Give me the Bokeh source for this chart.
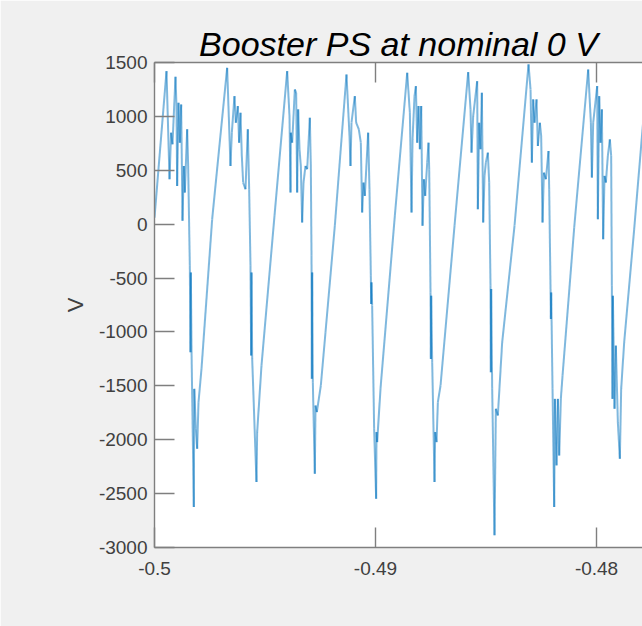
import numpy as np
from bokeh.plotting import figure
from bokeh.models import LinearAxis, FixedTicker, Range1d, Title, ColumnDataSource
from bokeh.embed import file_html
from bokeh.resources import INLINE

# ---- data (time offset in ms from t = -0.5 s, voltage in V) ----
T0 = -0.5
lead_ms = [0.000]
lead_v = [60]

c1_ms = [0.543, 0.680, 0.750, 0.814, 0.950, 0.995, 1.025, 1.086, 1.146, 1.206, 1.267, 1.327, 1.372,
         1.478, 1.523, 1.598, 1.628, 1.645, 1.674, 1.779, 1.800, 1.870, 1.930, 1.991, 2.126, 2.609]
c1_v = [1420, 417, 849, 741, 1368, 1096, 355, 1127, 756, 1111, 31, 540, 293,
        880, 540, -386, -1188, -448, -1158, -2624, -1528, -1898, -2084, -1652, -1343, 46]

c2_ms = [3.287, 3.438, 3.499, 3.619, 3.680, 3.770, 3.830, 3.891, 3.951, 4.011, 4.117, 4.222, 4.283,
         4.343, 4.373, 4.390, 4.420, 4.614, 4.645, 4.841, 5.429]
c2_v = [1451, 540, 849, 1188, 941, 1096, 756, 1034, 633, 386, 324, 880, 324,
        -386, -1219, -448, -1250, -2392, -1929, -1312, 77]

c3_ms = [6.003, 6.108, 6.154, 6.169, 6.229, 6.350, 6.410, 6.455, 6.500, 6.561, 6.621, 6.681, 6.742,
         6.832, 6.908, 7.028, 7.073, 7.104, 7.119, 7.134, 7.164, 7.254, 7.285, 7.345, 7.526, 7.737, 8.159]
c3_v = [1420, 1003, 293, 849, 756, 1250, 1219, 293, 1065, 695, 540, 15, 386,
        540, 509, 988, 540, -293, -1435, -448, -1466, -2315, -1682, -1744, -1497, -1003, -15]

c4_ms = [8.687, 8.823, 8.868, 8.913, 9.064, 9.124, 9.245, 9.335, 9.396, 9.456, 9.516, 9.667, 9.727,
         9.788, 9.803, 9.818, 9.848, 9.938, 10.029, 10.044, 10.074, 10.225, 10.874]
c4_v = [1389, 818, 540, 941, 1188, 941, 880, 756, 108, 386, 262, 849, 324,
        -478, -740, -540, -756, -1898, -2547, -1929, -2022, -1528, 77]

c5_ms = [11.434, 11.554, 11.630, 11.675, 11.765, 11.826, 11.886, 11.946, 12.007, 12.067, 12.127, 12.188,
         12.248, 12.338, 12.399, 12.429, 12.489, 12.504, 12.519, 12.565, 12.670, 12.700, 12.761, 12.821,
         12.942, 13.575]
c5_v = [1405, 1034, 108, 787, 1188, 1281, 756, 1096, 695, 1096, -15, 417,
        262, 571, 756, 509, -633, -1250, -664, -1281, -2392, -1929, -2022, -1652,
        -1497, -15]

c6_ms = [14.193, 14.299, 14.344, 14.419, 14.600, 14.630, 14.691, 14.751, 14.811, 14.872, 14.932, 14.992,
         15.083, 15.143, 15.203, 15.218, 15.233, 15.279, 15.384, 15.445, 15.535, 15.731, 16.289]
c6_v = [1411, 1065, 664, 1003, 1327, 139, 941, 695, 1219, 15, 448, 571,
        664, 386, -571, -1374, -602, -1528, -2886, -1713, -1775, -1096, -15]

c7_ms = [16.923, 17.014, 17.074, 17.135, 17.195, 17.285, 17.346, 17.436, 17.496, 17.557, 17.617, 17.708,
         17.828, 17.858, 17.919, 17.934, 17.949, 18.009, 18.085, 18.115, 18.190, 18.250, 18.311, 18.386,
         18.462, 18.990]
c7_v = [1482, 1250, 571, 1158, 941, 1158, 725, 941, 818, 15, 478, 417,
        679, 324, -602, -880, -633, -1528, -2624, -1621, -2238, -1621, -2146, -1621,
        -1405, -31]

c8_ms = [19.623, 19.744, 19.789, 19.849, 20.030, 20.060, 20.121, 20.181, 20.241, 20.301, 20.362, 20.422,
         20.512, 20.603, 20.663, 20.693, 20.723, 20.740, 20.814, 20.874, 20.965, 21.055, 21.115, 21.251,
         21.704, 22.081, 22.300]
c8_v = [1435, 941, 432, 941, 1281, 46, 1188, 756, 1065, -139, 448, 386,
        633, 787, 633, -571, -1621, -664, -1713, -1127, -1837, -2176, -1528, -1096,
        -46, 880, 1400]

x_ticks = [-0.5, -0.49, -0.48]
x_tick_labels = ["-0.5", "-0.49", "-0.48"]
y_ticks = [-3000, -2500, -2000, -1500, -1000, -500, 0, 500, 1000, 1500]
y_tick_labels = ["-3000", "-2500", "-2000", "-1500", "-1000", "-500", "0", "500", "1000", "1500"]

all_ms = lead_ms + c1_ms + c2_ms + c3_ms + c4_ms + c5_ms + c6_ms + c7_ms + c8_ms
all_v = lead_v + c1_v + c2_v + c3_v + c4_v + c5_v + c6_v + c7_v + c8_v
t = T0 + np.array(all_ms) / 1000.0
v = np.array(all_v, dtype=float)

src = ColumnDataSource(dict(x0=t[:-1], y0=v[:-1], x1=t[1:], y1=v[1:]))

p = figure(width=642, height=626, output_backend="svg", toolbar_location=None,
           x_range=Range1d(-0.5, -0.47792), y_range=Range1d(-3000, 1500),
           x_axis_location=None, y_axis_location=None,
           min_border_left=154, min_border_right=0, min_border_top=62, min_border_bottom=79,
           background_fill_color="white", border_fill_color="#f0f0f0",
           outline_line_color=None)
p.grid.visible = False

p.segment("x0", "y0", "x1", "y1", source=src, line_color="#0072BD",
          line_alpha=0.5, line_width=2.0)

AX = "#7f7f7f"
LAB = "#404040"


def style(ax):
    ax.axis_line_color = AX
    ax.axis_line_width = 1.4
    ax.major_tick_line_color = AX
    ax.major_tick_line_width = 1.4
    ax.major_tick_in = 20
    ax.major_tick_out = 0
    ax.minor_tick_line_color = None
    ax.major_label_text_font = "Liberation Sans"
    ax.major_label_text_font_size = "19px"
    ax.major_label_text_color = LAB


left = LinearAxis(ticker=FixedTicker(ticks=y_ticks),
                  major_label_overrides=dict(zip(y_ticks, y_tick_labels)))
style(left)
left.major_label_standoff = 7
left.axis_label = "V"
left.axis_label_text_font = "Liberation Sans"
left.axis_label_text_font_size = "22px"
left.axis_label_text_font_style = "normal"
left.axis_label_text_color = LAB
left.axis_label_standoff = 8
p.add_layout(left, "left")

below = LinearAxis(ticker=FixedTicker(ticks=x_ticks),
                   major_label_overrides=dict(zip(x_ticks, x_tick_labels)))
style(below)
below.major_label_standoff = 14
p.add_layout(below, "below")

above = LinearAxis(ticker=FixedTicker(ticks=x_ticks),
                   major_label_overrides={tk: "" for tk in x_ticks})
style(above)
above.major_label_text_font_size = "1px"
above.major_label_standoff = 0
p.add_layout(above, "above")

p.title = Title(text="Booster PS at nominal 0 V", align="center",
                text_font="Liberation Sans", text_font_style="italic",
                text_font_size="34px", text_color="black", standoff=0)

open("out.html", "w").write(file_html(p, INLINE))
